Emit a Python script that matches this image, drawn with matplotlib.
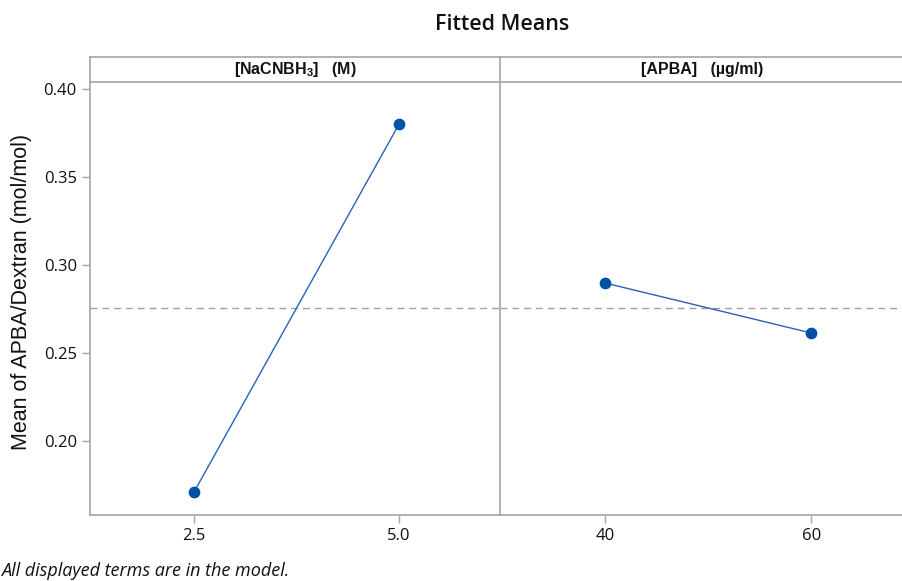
import matplotlib
matplotlib.use("Agg")
import matplotlib.pyplot as plt

# datos
nacnbh3_levels = [2.5, 5.0]
nacnbh3_means = [0.171, 0.380]
apba_levels = [40, 60]
apba_means = [0.2898, 0.2614]
grand_mean = 0.2755

y_ticks = [0.20, 0.25, 0.30, 0.35, 0.40]
y_tick_labels = ["0.20", "0.25", "0.30", "0.35", "0.40"]
left_ticks = [2.5, 5.0]
left_tick_labels = ["2.5", "5.0"]
right_ticks = [40, 60]
right_tick_labels = ["40", "60"]

plt.rcParams["mathtext.fontset"] = "custom"
plt.rcParams["mathtext.rm"] = "Liberation Sans"
plt.rcParams["mathtext.bf"] = "Liberation Sans:bold"

gray = "#a6a6a6"
blue = "#0052a5"
line_blue = "#2a62b8"
tick_font = "Open Sans"

fig = plt.figure(figsize=(9.03, 5.81), dpi=100)
W, H = 903, 581


def box(x0, y0, x1, y1):
    # convierte pixeles (arriba-izquierda) en fraccion de figura
    return [x0 / W, 1 - y1 / H, (x1 - x0) / W, (y1 - y0) / H]


ax1 = fig.add_axes(box(90, 82, 500, 515))
ax2 = fig.add_axes(box(500, 82, 905, 515))

for ax in (ax1, ax2):
    ax.set_ylim(0.158, 0.404)
    ax.axhline(grand_mean, color="#a0a0a0", lw=1, ls=(0, (5, 3.5)), zorder=1)
    for s in ("top", "right"):
        ax.spines[s].set_visible(False)
    ax.spines["left"].set_color(gray)
    ax.spines["bottom"].set_color(gray)
    ax.spines["left"].set_linewidth(1.2)
    ax.spines["bottom"].set_linewidth(1.2)
    ax.tick_params(colors=gray, labelcolor="#111111", length=6, width=1,
                   labelsize=12)

ax1.plot(nacnbh3_levels, nacnbh3_means, color=line_blue, lw=1, zorder=2)
ax1.scatter(nacnbh3_levels, nacnbh3_means, s=55, color=blue, zorder=3)
ax1.set_xlim(1.232, 6.232)
ax1.set_xticks(left_ticks)
ax1.set_xticklabels(left_tick_labels, fontfamily=tick_font, fontweight="medium")
ax1.set_yticks(y_ticks)
ax1.set_yticklabels(y_tick_labels, fontfamily=tick_font, fontweight="medium")

ax2.plot(apba_levels, apba_means, color=line_blue, lw=1, zorder=2)
ax2.scatter(apba_levels, apba_means, s=55, color=blue, zorder=3)
ax2.set_xlim(29.8, 69.1)
ax2.set_xticks(right_ticks)
ax2.set_xticklabels(right_tick_labels, fontfamily=tick_font, fontweight="medium")
ax2.set_yticks([])

# tiras de encabezado
h1 = fig.add_axes(box(90, 57, 500, 82))
h2 = fig.add_axes(box(500, 57, 905, 82))
for h in (h1, h2):
    h.set_xticks([])
    h.set_yticks([])
    for s in h.spines.values():
        s.set_color(gray)
        s.set_linewidth(1.2)
    h.spines["right"].set_visible(False)
h1.text(0.5, 0.5, r"[NaCNBH$_{\mathbf{3}}$]   (M)", ha="center", va="center",
        fontsize=11.5, fontweight="bold", family="Liberation Sans",
        color="#111111", transform=h1.transAxes)
h2.text(0.5, 0.5, "[APBA]   (µg/ml)", ha="center", va="center",
        fontsize=11.5, fontweight="bold", family="Liberation Sans",
        color="#111111", transform=h2.transAxes)

fig.text(502 / W, 1 - 24 / H, "Fitted Means", ha="center", va="center",
         fontsize=15.5, fontweight="semibold", family="Open Sans",
         color="#111111")
fig.text(22 / W, 1 - 292 / H, "Mean of APBA/Dextran (mol/mol)", ha="center",
         va="center", rotation=90, fontsize=15.5, family="Liberation Sans",
         color="#111111")
fig.text(1 / W, 1 - 571 / H, "All displayed terms are in the model.",
         ha="left", va="center", fontsize=13, style="italic",
         family="Open Sans", color="#111111")

fig.savefig("out.png", dpi=100)
